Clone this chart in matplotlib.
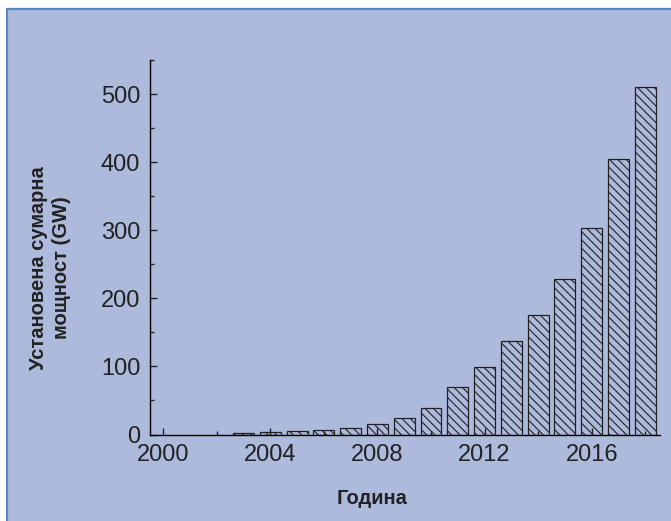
import matplotlib
matplotlib.use("Agg")
import matplotlib.pyplot as plt
from matplotlib.patches import Rectangle
from matplotlib.ticker import MultipleLocator

# cumulative installed capacity, GW
years = [2003, 2004, 2005, 2006, 2007, 2008, 2009, 2010,
         2011, 2012, 2013, 2014, 2015, 2016, 2017, 2018]
capacity = [2.8, 3.9, 5.4, 7.0, 9.5, 15, 24, 39,
            70, 99, 137, 175, 228, 303, 405, 511]

bg = "#adbadc"
plt.rcParams["font.family"] = ["Liberation Sans", "DejaVu Sans"]
plt.rcParams["hatch.linewidth"] = 0.8
plt.rcParams["hatch.color"] = "#333333"

fig = plt.figure(figsize=(6.71, 5.21), dpi=100, facecolor="white")

# blue panel with border
fig.patches.append(Rectangle((7 / 671, -0.1), 1.2, 1 - 8.5 / 521 + 0.1,
                             transform=fig.transFigure, facecolor=bg,
                             edgecolor="#5b87c5", linewidth=1.6, zorder=-10))

ax = fig.add_axes([150 / 671, 86.5 / 521, 510 / 671, 374.5 / 521])
ax.set_zorder(1)
ax.patch.set_visible(False)

ax.bar(years, capacity, width=0.78, facecolor="none", edgecolor="#222222",
       linewidth=0.9, hatch="\\\\\\\\")

ax.set_xlim(1999.51, 2018.55)
ax.set_ylim(0, 550)
ax.spines["top"].set_visible(False)
ax.spines["right"].set_visible(False)
ax.spines["left"].set_linewidth(1.0)
ax.spines["bottom"].set_linewidth(1.0)

ax.xaxis.set_major_locator(MultipleLocator(4))
ax.xaxis.set_minor_locator(MultipleLocator(2))
ax.yaxis.set_major_locator(MultipleLocator(100))
ax.yaxis.set_minor_locator(MultipleLocator(50))
ax.tick_params(which="both", direction="in", labelsize=17, colors="#222222")
ax.tick_params(which="major", length=5, width=1.0, pad=7)
ax.tick_params(which="minor", length=3, width=1.0)

fig.text(50 / 671, 1 - 268 / 521, "Установена сумарна\nмощност (GW)",
         rotation=90, ha="center", va="center", multialignment="center",
         fontsize=14.5, fontweight="bold", color="#222222", linespacing=1.3)
fig.text(372 / 671, 1 - 498 / 521, "Година", ha="center", va="center",
         fontsize=14.5, fontweight="bold", color="#222222")

fig.savefig("out.png", dpi=100, facecolor="white")
